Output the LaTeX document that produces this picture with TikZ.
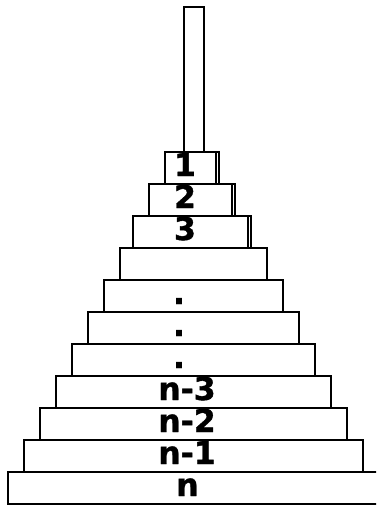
\documentclass[tikz,border=0pt]{standalone}
\usepackage{fontspec}
\newfontfamily\diskfont{DejaVu Sans Bold}[FakeBold=1.2]
\usetikzlibrary{positioning}
\tikzset{
  disk/.style    = {rectangle, draw=black, line width=1.6pt, fill=white,
                    minimum height=32pt, inner sep=0pt, outer sep=0pt,
                    anchor=north west},
  peg/.style     = {rectangle, draw=black, line width=1.6pt, fill=white,
                    minimum width=20pt, minimum height=145pt,
                    inner sep=0pt, outer sep=0pt, anchor=north west},
  rim/.style     = {black, line width=1.2pt},
  disklbl/.style = {font=\diskfont\fontsize{31.5}{31.5}\selectfont,
                    inner sep=0pt, anchor=base},
}

\begin{document}
\begin{tikzpicture}[x=1pt, y=-1pt]
  \clip (0,0) rectangle (376,505);
  \node[peg] (Peg) at (184,7) {};
  \foreach \l/\r/\t/\tx [count=\k] in {165/219/1/185, 149/235/2/185,
      133/251/3/185, 120/267/{}/193, 104/283/./179, 88/299/./179,
      72/315/./179, 56/331/n-3/187, 40/347/n-2/187, 24/363/n-1/187,
      8/379/n/187.5} {
    \pgfmathsetmacro{\dtop}{152+32*(\k-1)}
    \pgfmathsetmacro{\dw}{\r-\l}
    \node[disk, minimum width=\dw pt] (D\k) at (\l,\dtop) {};
    \node[disklbl] (L\k) at (\tx,\dtop+24) {\t};
  }
  % inner edge on the three smallest disks
  \foreach \k in {1,2,3}
    \draw[rim] ([xshift=-3pt]D\k.north east) -- ([xshift=-3pt]D\k.south east);
\end{tikzpicture}
\end{document}
